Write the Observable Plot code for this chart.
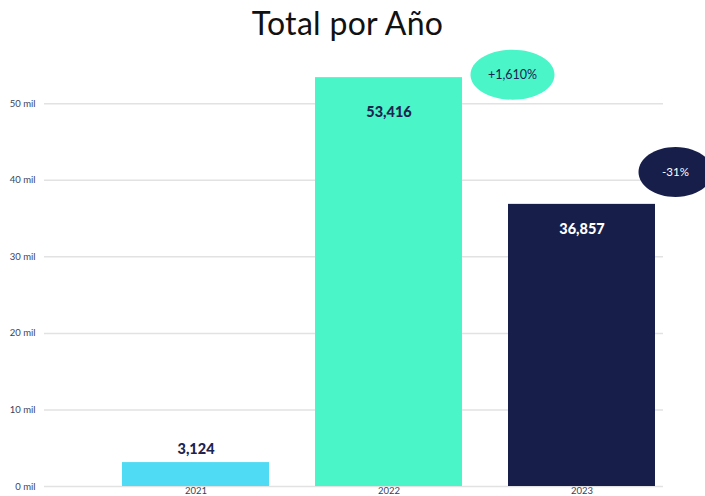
<!DOCTYPE html>
<html>
<head>
<meta charset="utf-8">
<script src="https://cdn.jsdelivr.net/npm/d3@7"></script>
<script src="https://cdn.jsdelivr.net/npm/@observablehq/plot@0.6"></script>
<style>
  html, body { margin: 0; padding: 0; background: #ffffff; }
  #title { height: 45px; font-family: Lato, "Noto Sans", sans-serif; font-size: 32px; color: #111111;
           text-align: center; line-height: 45px; width: 695px; letter-spacing: 0.3px; }
  #chart svg { display: block; }
</style>
</head>
<body>
<div id="title">Total por Año</div>
<div id="chart"></div>
<script>
const years = ["2021", "2022", "2023"];
const totals = [3124, 53416, 36857];
const barColors = ["#50dbf5", "#4af5c8", "#171e4a"];
const labelColors = ["#1d2350", "#1d2350", "#ffffff"];
const yTicks = [0, 10000, 20000, 30000, 40000, 50000];
const changeYears = ["2022", "2023"];
const changeLabels = ["+1,610%", "-31%"];
const changeAnchors = [53800, 41100];

const bars = years.map((y, i) => ({year: y, total: totals[i], color: barColors[i], lc: labelColors[i]}));
const changes = changeYears.map((y, i) => ({year: y, label: changeLabels[i], at: changeAnchors[i],
  fill: barColors[years.indexOf(y)], tc: labelColors[years.indexOf(y)]}));

const ellipse = (rx, ry) => ({
  draw(ctx) {
    const k = 0.5523;
    ctx.moveTo(rx, 0);
    ctx.bezierCurveTo(rx, ry * k, rx * k, ry, 0, ry);
    ctx.bezierCurveTo(-rx * k, ry, -rx, ry * k, -rx, 0);
    ctx.bezierCurveTo(-rx, -ry * k, -rx * k, -ry, 0, -ry);
    ctx.bezierCurveTo(rx * k, -ry, rx, -ry * k, rx, 0);
    ctx.closePath();
  }
});

const fmt = d3.format(",");
const font = "Lato, 'Noto Sans', sans-serif";
const byYear = y => d => d.year === y;

const chart = Plot.plot({
  width: 705,
  height: 451,
  marginTop: 20,
  marginBottom: 10,
  marginLeft: 44,
  marginRight: 42,
  style: {fontFamily: font, fontSize: "9px", color: "#3a3f5c", background: "#ffffff", overflow: "visible"},
  x: {domain: years, range: [98.5, 677.5], paddingInner: 0.24, paddingOuter: 0.12, axis: null, label: null},
  y: {domain: [0, 55000], axis: null},
  marks: [
    Plot.gridY(yTicks, {stroke: "#e2e2e2", strokeOpacity: 1, strokeWidth: 1.5}),
    Plot.axisY(yTicks, {tickSize: 0, tickPadding: 9, tickFormat: d => `${d / 1000} mil`, fill: "#3a3f5c", fontSize: 9.5, label: null}),
    Plot.barY(bars, {x: "year", y: "total", fill: "color"}),
    Plot.axisX({tickSize: 0, tickPadding: 1, fill: "#3a3f5c", fontSize: 9.5, label: null}),
    Plot.text(bars.filter(byYear("2022")), {x: "year", y: "total", text: d => fmt(d.total), fill: "lc",
      dy: 35, fontSize: 14.5, fontWeight: 900}),
    Plot.text(bars.filter(byYear("2023")), {x: "year", y: "total", text: d => fmt(d.total), fill: "lc",
      dy: 25, fontSize: 14.5, fontWeight: 900}),
    Plot.text(bars.filter(byYear("2021")), {x: "year", y: "total", text: d => fmt(d.total), fill: "lc",
      dy: -13, fontSize: 14.5, fontWeight: 900}),
    Plot.dot(changes.filter(byYear("2022")), {x: "year", y: "at", dx: 123.5, symbol: ellipse(42, 25), fill: "fill", stroke: null}),
    Plot.text(changes.filter(byYear("2022")), {x: "year", y: "at", dx: 123.5, text: "label", fill: "tc", fontSize: 12.5}),
    Plot.dot(changes.filter(byYear("2023")), {x: "year", y: "at", dx: 93.5, symbol: ellipse(37, 25), fill: "fill", stroke: null}),
    Plot.text(changes.filter(byYear("2023")), {x: "year", y: "at", dx: 93.5, text: "label", fill: "tc", fontSize: 11.5})
  ]
});
document.getElementById("chart").appendChild(chart);
</script>
</body>
</html>
